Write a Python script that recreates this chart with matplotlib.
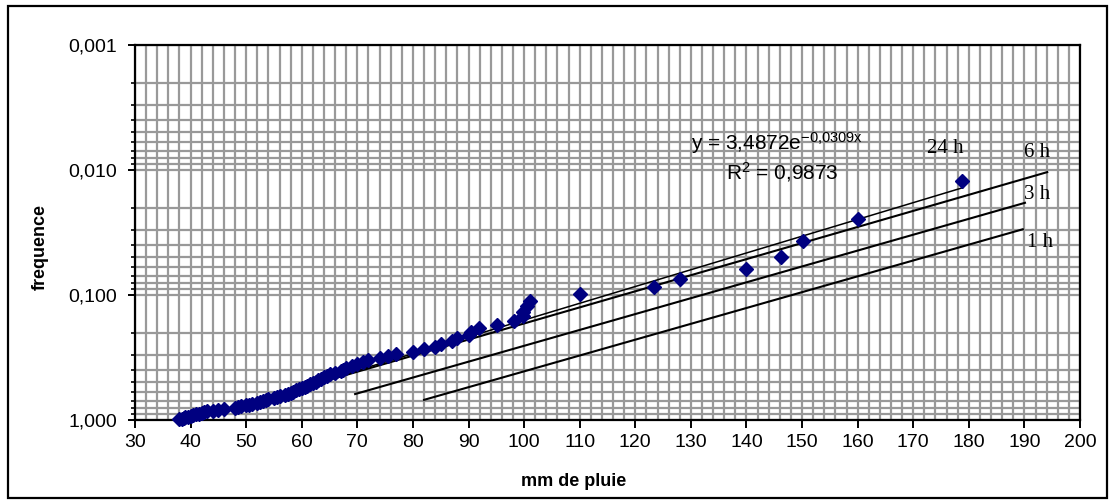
import matplotlib
matplotlib.use("Agg")
import matplotlib.pyplot as plt
import numpy as np
from matplotlib.ticker import FixedLocator, MultipleLocator, NullFormatter, FixedFormatter
from matplotlib.patches import Rectangle

plt.rcParams['font.family'] = ['Liberation Sans', 'DejaVu Sans']
plt.rcParams['mathtext.fontset'] = 'custom'
plt.rcParams['mathtext.rm'] = 'Liberation Sans'
plt.rcParams['mathtext.it'] = 'Liberation Sans'

# ---- data ----
pluie_mm = [178.8, 160.1, 150.2, 146.2, 139.9, 128.0, 123.4, 110.0, 101.0, 100.5,
            99.8, 99.8, 98.2, 95.1, 91.9, 90.4, 90.0, 88.0, 87.0, 85.0,
            84.0, 82.0, 80.0, 77.0, 75.5, 74.0, 72.0, 71.0, 70.0, 69.0,
            68.0, 67.5, 67.0, 66.0, 65.0, 64.5, 64.0, 63.5, 63.0, 62.5,
            62.0, 61.5, 61.0, 60.5, 60.0, 59.5, 59.0, 58.5, 58.0, 57.5,
            57.0, 56.0, 55.5, 55.0, 54.0, 53.5, 53.0, 52.5, 52.0, 51.0,
            50.5, 50.0, 49.0, 48.5, 48.0, 46.0, 45.0, 44.0, 43.0, 42.5,
            42.0, 41.5, 41.0, 40.5, 40.0, 39.5, 39.0, 38.8, 38.5, 38.0]
frequence = [0.0123, 0.0247, 0.0370, 0.0494, 0.0617, 0.0741, 0.0864, 0.0988, 0.1111, 0.1235,
             0.1358, 0.1481, 0.1605, 0.1728, 0.1852, 0.1975, 0.2099, 0.2222, 0.2346, 0.2469,
             0.2593, 0.2716, 0.2840, 0.2963, 0.3086, 0.3210, 0.3333, 0.3457, 0.3580, 0.3704,
             0.3827, 0.3951, 0.4074, 0.4198, 0.4321, 0.4444, 0.4568, 0.4691, 0.4815, 0.4938,
             0.5062, 0.5185, 0.5309, 0.5432, 0.5556, 0.5679, 0.5802, 0.5926, 0.6049, 0.6173,
             0.6296, 0.6420, 0.6543, 0.6667, 0.6790, 0.6914, 0.7037, 0.7160, 0.7284, 0.7407,
             0.7531, 0.7654, 0.7778, 0.7901, 0.8025, 0.8148, 0.8272, 0.8395, 0.8519, 0.8642,
             0.8765, 0.8889, 0.9012, 0.9136, 0.9259, 0.9383, 0.9506, 0.9630, 0.9753, 0.9877]

# trend line (24 h): y = a * exp(-b x)
trend_a = 3.4872
trend_b = 0.0309
trend_x = [38.0, 179.0]

# duration lines (end points)
line_6h_x = [41.0, 194.1]
line_6h_y = [0.97, 0.0104]
line_3h_x = [69.6, 190.1]
line_3h_y = [0.62, 0.0183]
line_1h_x = [82.0, 189.7]
line_1h_y = [0.69, 0.0298]

y_ticks = [0.001, 0.01, 0.1, 1.0]
y_ticklabels = ["0,001", "0,010", "0,100", "1,000"]
x_ticks = list(range(30, 201, 10))

fig = plt.figure(figsize=(11.16, 5.03), dpi=100)
ax = fig.add_axes([135/1116, 1-420/503, (1080-135)/1116, (420-45)/503])

# figure border
fig.patches.append(Rectangle((8/1116, 5/503), (1107-8)/1116, (497-5)/503,
                             transform=fig.transFigure, fill=False,
                             edgecolor='black', linewidth=1.6, zorder=0))

ax.set_yscale('log')
ax.set_xlim(30, 200)
ax.set_ylim(1.0, 0.001)

ax.yaxis.set_major_locator(FixedLocator(y_ticks))
ax.yaxis.set_major_formatter(FixedFormatter(y_ticklabels))
minor_y = [m * 10.0**e for e in (-3, -2, -1) for m in range(2, 10)]
ax.yaxis.set_minor_locator(FixedLocator(minor_y))
ax.yaxis.set_minor_formatter(NullFormatter())
ax.xaxis.set_major_locator(FixedLocator(x_ticks))
ax.xaxis.set_minor_locator(MultipleLocator(2))

grid_col = '#999999'
ax.grid(True, which='both', axis='both', color=grid_col, linewidth=1.6)
ax.set_axisbelow(True)

for s in ax.spines.values():
    s.set_linewidth(1.6)
    s.set_color('black')

ax.tick_params(axis='x', which='major', direction='out', length=6, width=1.4,
               labelsize=14, pad=4)
ax.tick_params(axis='y', which='major', direction='out', length=5, width=1.4,
               labelsize=14, pad=8)
ax.tick_params(axis='x', which='minor', length=0)
ax.tick_params(axis='y', which='minor', direction='out', length=3, width=1.2)

# lines
xt = np.linspace(trend_x[0], trend_x[1], 200)
ax.plot(xt, trend_a * np.exp(-trend_b * xt), color='black', linewidth=1.1, zorder=3)
ax.plot(line_6h_x, line_6h_y, color='black', linewidth=1.5, zorder=3)
ax.plot(line_3h_x, line_3h_y, color='black', linewidth=1.5, zorder=3)
ax.plot(line_1h_x, line_1h_y, color='black', linewidth=1.5, zorder=3)

ax.plot(pluie_mm, frequence, linestyle='none', marker='D', markersize=7.2,
        color='#000080', markeredgecolor='#000080', zorder=4, clip_on=False)

serif = ['Liberation Serif', 'DejaVu Serif']
ax.text(175.7, 0.00667, '24 h', family=serif, fontsize=15, ha='center', va='center')
ax.text(192.3, 0.00718, '6 h', family=serif, fontsize=15, ha='center', va='center')
ax.text(192.3, 0.01556, '3 h', family=serif, fontsize=15, ha='center', va='center')
ax.text(192.8, 0.0377, '1 h', family=serif, fontsize=15, ha='center', va='center')

ax.text(145.5, 0.00608, r'y = 3,4872e$^{\mathrm{-0{,}0309x}}$', fontsize=15,
        ha='center', va='center')
ax.text(146.5, 0.0104, r'R$^{\mathrm{2}}$ = 0,9873', fontsize=15, ha='center', va='center')

fig.text(574/1116, 1-481/503, 'mm de pluie', fontsize=13, fontweight='bold',
         ha='center', va='center')
fig.text(40/1116, 1-247/503, 'frequence', fontsize=13, fontweight='bold',
         ha='center', va='center', rotation=90)

fig.savefig('out.png', dpi=100)
